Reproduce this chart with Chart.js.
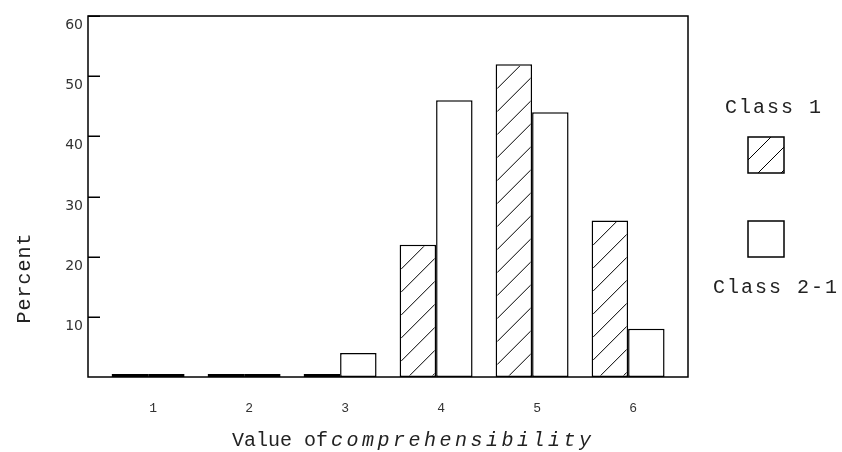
<!DOCTYPE html>
<html><head><meta charset="utf-8">
<script src="https://cdn.jsdelivr.net/npm/chart.js@4/dist/chart.umd.min.js"></script>
<style>html,body{margin:0;padding:0;background:#fff}#wrap{width:842px;height:452px;position:relative}</style>
</head><body><div id="wrap"><canvas id="c" width="842" height="452"></canvas></div>
<script>
const categories = [1, 2, 3, 4, 5, 6];
const class1 = [0, 0, 0, 22, 52, 26];
const class21 = [0, 0, 4, 46, 44, 8];
const yTicks = [10, 20, 30, 40, 50, 60];
const seriesNames = ['Class 1', 'Class 2-1'];
const xTitlePlain = 'Value of';
const xTitleItalic = 'comprehensibility';
const yTitle = 'Percent';

const TITLE_FONT = '20px "Liberation Mono"';
const HATCH = 23;

function drawHatch(ctx, left, top, w, h) {
  ctx.save();
  ctx.beginPath();
  ctx.rect(left, top, w, h);
  ctx.clip();
  ctx.strokeStyle = '#000';
  ctx.lineWidth = 1;
  ctx.beginPath();
  for (let d = HATCH; d < w + h + HATCH; d += HATCH) {
    ctx.moveTo(left, top + d);
    ctx.lineTo(left + d, top);
  }
  ctx.stroke();
  ctx.restore();
}

const hatchPlugin = {
  id: 'hatch',
  afterDatasetDraw(chart, args) {
    if (args.index !== 0) return;
    const ctx = chart.ctx;
    const bw = 1.5;
    args.meta.data.forEach(el => {
      const p = el.getProps(['x', 'y', 'base', 'width'], true);
      const h = p.base - p.y;
      if (h <= 4) return;
      drawHatch(ctx, p.x - p.width / 2 + bw, p.y + bw, p.width - 2 * bw, h - 2 * bw);
    });
  }
};

const framePlugin = {
  id: 'frame',
  beforeDatasetsDraw(chart) {
    const ctx = chart.ctx, a = chart.chartArea, ys = chart.scales.y;
    ctx.save();
    ctx.strokeStyle = '#000';
    ctx.lineWidth = 1.5;
    ctx.strokeRect(a.left, a.top, a.right - a.left, a.bottom - a.top);
    ctx.beginPath();
    yTicks.forEach(v => {
      const py = Math.round(ys.getPixelForValue(v)) + 0.25;
      ctx.moveTo(a.left, py);
      ctx.lineTo(a.left + 12, py);
    });
    ctx.stroke();
    ctx.restore();
  }
};

const textPlugin = {
  id: 'texts',
  afterDraw(chart) {
    const ctx = chart.ctx;
    ctx.save();
    ctx.fillStyle = '#222';
    ctx.textBaseline = 'alphabetic';
    // x title
    ctx.font = TITLE_FONT;
    ctx.textAlign = 'left';
    ctx.letterSpacing = '0px';
    ctx.fillText(xTitlePlain, 232, 446);
    ctx.font = 'italic ' + TITLE_FONT;
    ctx.letterSpacing = '3.5px';
    ctx.fillText(xTitleItalic, 331, 446);
    // y title
    ctx.font = TITLE_FONT;
    ctx.letterSpacing = '1px';
    ctx.save();
    ctx.translate(30, 278);
    ctx.rotate(-Math.PI / 2);
    ctx.textAlign = 'center';
    ctx.fillText(yTitle, 0, 0);
    ctx.restore();
    // legend
    ctx.letterSpacing = '2px';
    ctx.textAlign = 'center';
    ctx.fillText(chart.data.datasets[0].label, 774, 113);
    ctx.fillText(chart.data.datasets[1].label, 776, 293);
    ctx.letterSpacing = '0px';
    ctx.fillStyle = '#fff';
    ctx.fillRect(748, 137, 36, 36);
    ctx.fillRect(748, 221, 36, 36);
    drawHatch(ctx, 748, 137, 36, 36);
    ctx.strokeStyle = '#000';
    ctx.lineWidth = 1.5;
    ctx.strokeRect(748, 137, 36, 36);
    ctx.strokeRect(748, 221, 36, 36);
    ctx.restore();
  }
};

const common = {
  backgroundColor: '#fff',
  borderColor: '#000',
  borderWidth: 1.5,
  borderSkipped: false,
  minBarLength: 3,
  categoryPercentage: 0.76,
  barPercentage: 1
};

new Chart(document.getElementById('c'), {
  type: 'bar',
  data: {
    datasets: [
      Object.assign({ label: seriesNames[0], data: categories.map((c, i) => ({ x: c, y: class1[i] })) }, common),
      Object.assign({ label: seriesNames[1], data: categories.map((c, i) => ({ x: c, y: class21[i] })) }, common)
    ]
  },
  options: {
    responsive: false,
    animation: false,
    devicePixelRatio: 1,
    layout: { padding: { top: 16, right: 154, left: 0, bottom: 0 } },
    plugins: { legend: { display: false }, tooltip: { enabled: false } },
    scales: {
      x: {
        type: 'linear',
        min: 0.374,
        max: 6.624,
        offset: false,
        grid: { display: false, drawTicks: false },
        border: { display: false },
        afterBuildTicks: s => { s.ticks = categories.map(v => ({ value: v })); },
        afterFit: s => { s.height = 75; },
        ticks: { font: { family: 'Liberation Mono', size: 13 }, color: '#333', labelOffset: 5, padding: 24, autoSkip: false, maxRotation: 0 }
      },
      y: {
        min: 0,
        max: 60,
        grid: { display: false, drawTicks: false },
        border: { display: false },
        afterBuildTicks: s => { s.ticks = yTicks.map(v => ({ value: v })); },
        afterFit: s => { s.width = 88; },
        ticks: { font: { family: 'DejaVu Sans', size: 14 }, color: '#333', labelOffset: 9.5, padding: 5 }
      }
    }
  },
  plugins: [framePlugin, hatchPlugin, textPlugin]
});
</script>
</body></html>
